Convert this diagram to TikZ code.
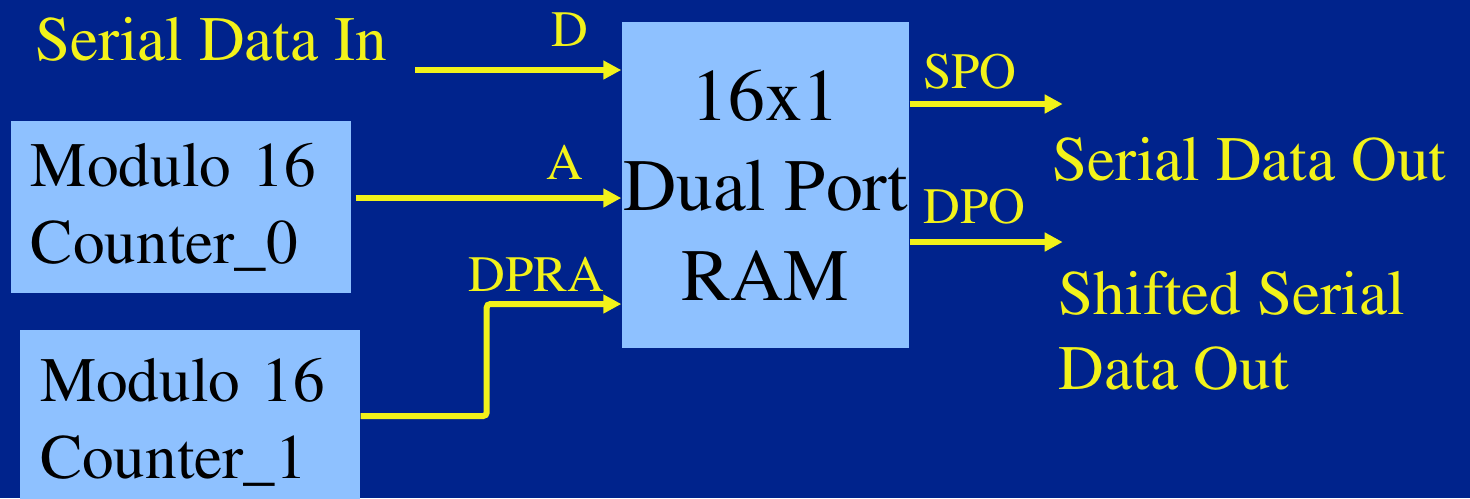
\documentclass[tikz,border=0pt]{standalone}
\usepackage[T1]{fontenc}
\usepackage{times}
\usetikzlibrary{arrows.meta, positioning, calc}
\definecolor{bgblue}{HTML}{00238C}
\definecolor{boxblue}{HTML}{8EC1FF}
\definecolor{sigyellow}{HTML}{F2F21A}

\begin{document}
\begin{tikzpicture}[
  blk/.style={fill=boxblue, inner sep=0pt, font=\fontsize{18pt}{21.9pt}\selectfont},
  sig/.style={draw=sigyellow, line width=1.7pt, -{Triangle[length=0.18cm, width=0.18cm]}},
  pin/.style={text=sigyellow, inner sep=0pt, font=\fontsize{14.5pt}{17pt}\selectfont},
  lbl/.style={text=sigyellow, inner sep=0pt, align=left, font=\fontsize{18pt}{21.3pt}\selectfont}]
  % Background
  \fill[bgblue] (0,0) rectangle (14.70,-4.98);
  \useasboundingbox (0,0) rectangle (14.70,-4.98);
  \clip (0,0) rectangle (14.70,-4.98);

  % Blocks
  \node[blk, minimum width=2.87cm, minimum height=3.26cm, align=center,
        font=\fontsize{21pt}{25.6pt}\selectfont] (ram) at (7.655,-1.85) {16x1\\Dual Port\\RAM};
  \node[blk, minimum width=3.40cm, minimum height=1.72cm, text width=3.0cm,
        inner xsep=0.2cm, align=left] (c0) at (1.81,-2.07) {Modulo 16\\Counter\_0};
  \node[blk, minimum width=3.40cm, minimum height=1.85cm, text width=3.0cm,
        inner xsep=0.2cm, align=left] (c1) at (1.90,-4.225) {Modulo 16\\Counter\_1};

  % Inputs
  \coordinate (din) at (4.15,-0.70);
  \draw[sig] (din) -- (din -| ram.west);
  \draw[sig] ([shift={(0.04,0.09)}]c0.east) coordinate (ain) -- (ain -| ram.west);
  \draw[sig, rounded corners=1pt] ([yshift=0.065cm]c1.east) -- ++(1.26,0) |- ([yshift=-1.19cm]ram.west);

  % Outputs
  \draw[sig] ([yshift=0.81cm]ram.east) -- ++(1.53,0) coordinate (spo);
  \draw[sig] ([yshift=-0.57cm]ram.east) -- ++(1.53,0) coordinate (dpo);

  % Port labels
  \node[pin, anchor=base] (pd) at (5.70,-0.46) {D};
  \node[pin, anchor=base] (pa) at (5.65,-1.79) {A};
  \node[pin, anchor=base] (pdpra) at (5.365,-2.91) {DPRA};
  \node[pin, anchor=base] (pspo) at (9.70,-0.88) {SPO};
  \node[pin, anchor=base] (pdpo) at (9.745,-2.23) {DPO};

  % Signal names
  \node[lbl, anchor=base west] (sin) at (0.35,-0.60) {Serial Data In};
  \node[lbl, anchor=base west] (sout) at (10.52,-1.80) {Serial Data Out};
  \node[lbl, anchor=north west] (shout) at (10.58,-2.71) {Shifted Serial\\Data Out};
\end{tikzpicture}
\end{document}
